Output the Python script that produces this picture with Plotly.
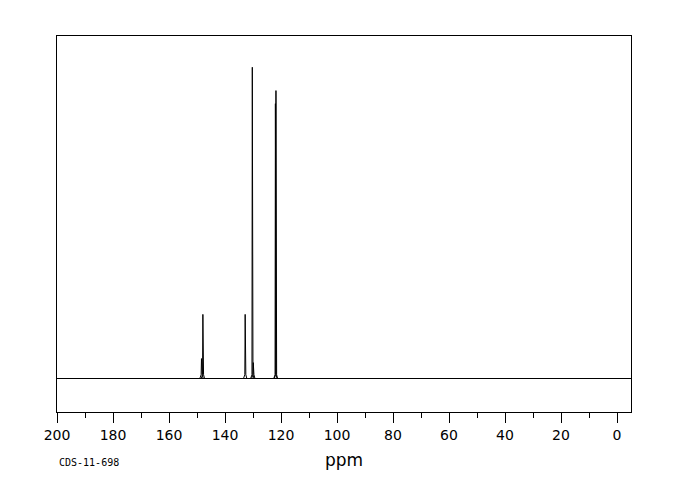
import plotly.graph_objects as go

# Peak list (ppm, relative intensity)
peak_ppm = [148.4, 147.9, 132.8, 130.25, 129.9, 122.0, 121.8]
peak_height = [6.4, 20.6, 20.6, 100.0, 5.1, 88.3, 92.5]

x_ticks = [200, 180, 160, 140, 120, 100, 80, 60, 40, 20, 0]
x_range = [200, -5]
y_range = [-10.76, 110.04]
code_label = "CDS-11-698"
x_title = "ppm"

half_w = 0.12
bump_w = 0.6
bump_h = 1.2

px, py = [], []
for p, h in zip(peak_ppm, peak_height):
    px += [p + bump_w, p + half_w * 2, p + half_w, p, p - half_w, p - half_w * 2, p - bump_w, None]
    py += [0, bump_h, bump_h, h, bump_h, bump_h, 0, None]

fig = go.Figure()
fig.add_trace(go.Scatter(x=x_range, y=[0, 0], mode="lines",
                         line=dict(color="black", width=1), hoverinfo="skip"))
fig.add_trace(go.Scatter(x=px, y=py, mode="lines",
                         line=dict(color="black", width=1), hoverinfo="skip"))

fig.update_layout(
    width=680, height=500,
    margin=dict(l=49, r=57, t=28, b=96),
    paper_bgcolor="white", plot_bgcolor="white",
    showlegend=False,
    font=dict(family="DejaVu Sans", color="black"),
    xaxis=dict(
        range=x_range, tickvals=x_ticks, ticktext=[str(v) for v in x_ticks],
        ticks="outside", ticklen=10, tickcolor="black", tickwidth=1,
        minor=dict(dtick=10, ticks="outside", ticklen=5, tickcolor="black", tickwidth=1),
        showgrid=False, zeroline=False,
        showline=True, linecolor="black", linewidth=1, mirror=True,
        tickfont=dict(size=14, family="DejaVu Sans", color="black"),
        title=dict(text=x_title, font=dict(size=17, family="DejaVu Sans", color="black"), standoff=12),
    ),
    yaxis=dict(
        range=y_range, showticklabels=False, ticks="", showgrid=False, zeroline=False,
        showline=True, linecolor="black", linewidth=1, mirror=True,
    ),
    annotations=[dict(text=code_label, xref="paper", yref="paper", x=0, y=-0.135,
                      xanchor="left", yanchor="middle", showarrow=False,
                      font=dict(size=10, family="DejaVu Sans Mono", color="black"))],
)

fig.write_html("out.html")
